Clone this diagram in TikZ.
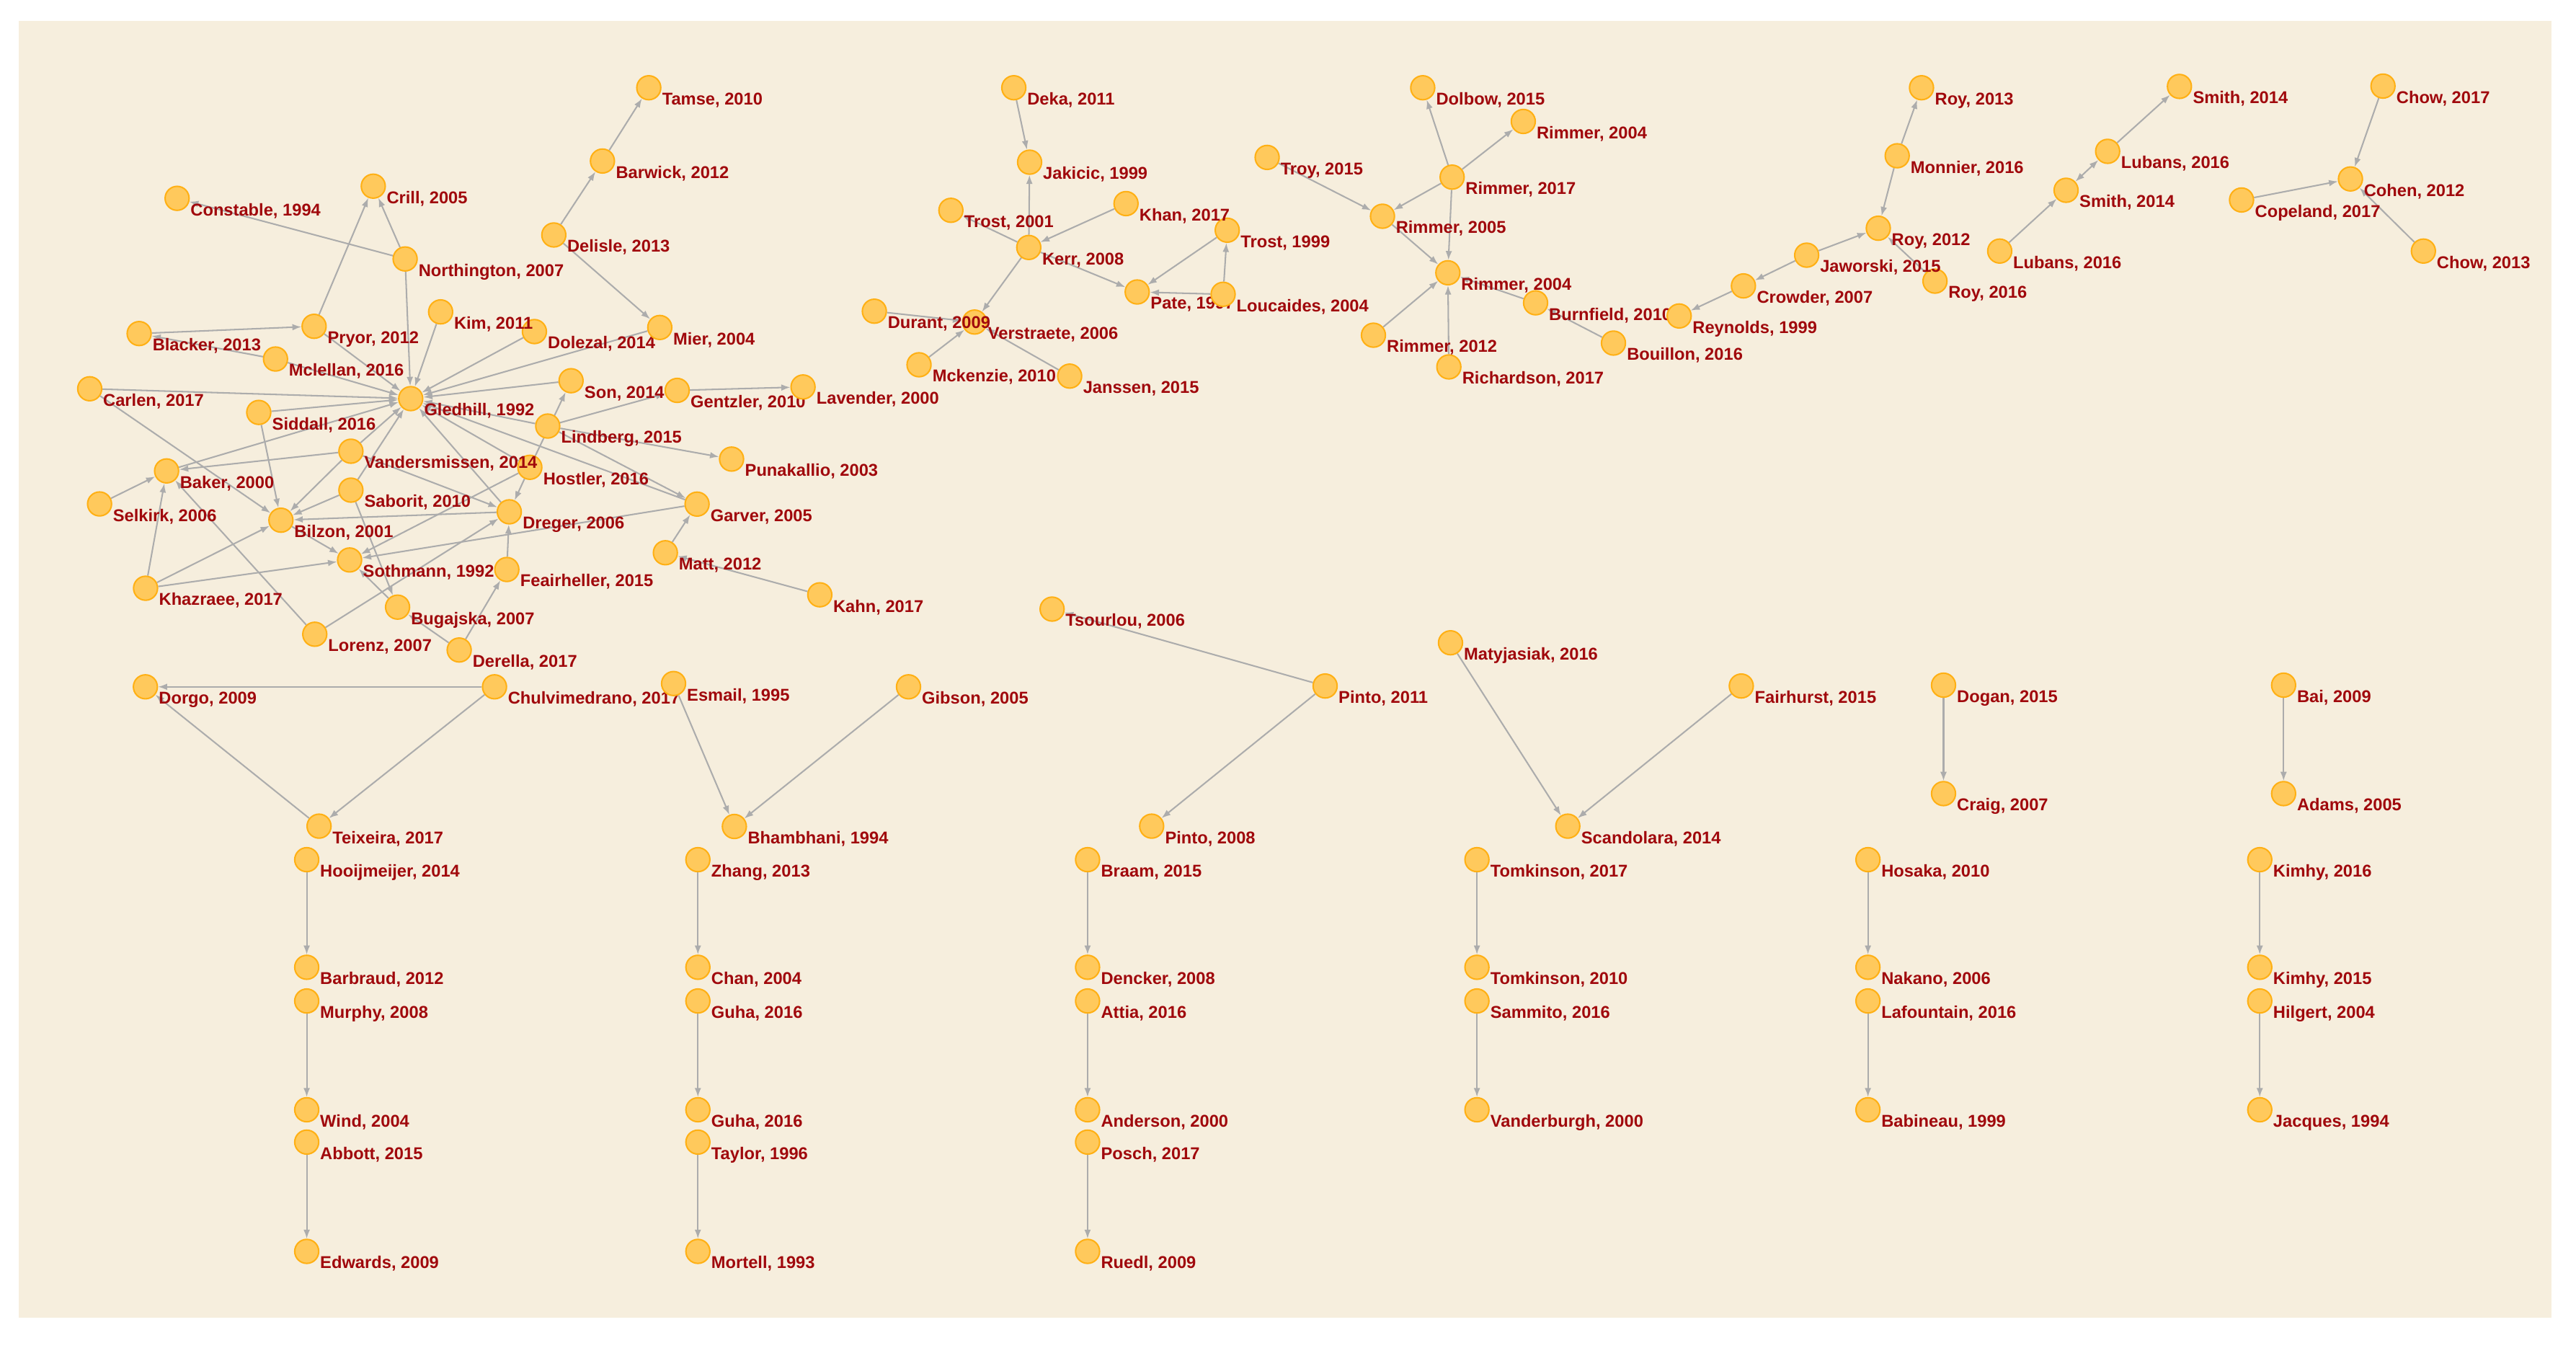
\documentclass[tikz,border=0pt]{standalone}
\usepackage{fontspec}
\setmainfont{Liberation Sans}
\usetikzlibrary{arrows.meta,backgrounds}
\definecolor{bgc}{RGB}{246,238,221}
\definecolor{nfill}{RGB}{255,201,92}
\definecolor{ndraw}{RGB}{255,176,20}
\definecolor{lblc}{RGB}{160,8,12}
\definecolor{edgec}{RGB}{172,172,172}
\tikzset{
  pnode/.style={circle,fill=nfill,draw=ndraw,line width=0.9pt,minimum size=14.6pt,inner sep=0pt},
  plabel/.style={anchor=base west,inner sep=0pt,text=lblc,font=\fontsize{10.4}{12}\selectfont\bfseries},
  edge/.style={draw=edgec,line width=0.9pt,-{Latex[length=5.5pt,width=4pt]}},
  edgeboth/.style={draw=edgec,line width=0.9pt,{Latex[length=5.5pt,width=4pt]}-{Latex[length=5.5pt,width=4pt]}}
}
\newcommand{\pn}[4]{\node[pnode] (#1) at (#2,-#3) {}; \node[plabel] (#1t) at ({#2+8},{-#3-10.5}) {#4};}
\begin{document}
\begin{tikzpicture}[x=1pt,y=1pt]
\useasboundingbox (0,0) rectangle (1568,-820);
% left cluster
\pn{tamse}{394.9}{53.4}{Tamse, 2010}
\pn{barwick}{366.7}{98}{Barwick, 2012}
\pn{crill}{227.2}{113.3}{Crill, 2005}
\pn{constable}{107.8}{120.7}{Constable, 1994}
\pn{delisle}{337.1}{143}{Delisle, 2013}
\pn{northington}{246.6}{157.6}{Northington, 2007}
\pn{dolezal}{325.3}{201.8}{Dolezal, 2014}
\pn{kim}{268.2}{189.8}{Kim, 2011}
\pn{blacker}{84.7}{203}{Blacker, 2013}
\pn{pryor}{191.2}{198.6}{Pryor, 2012}
\pn{mier}{401.6}{199.3}{Mier, 2004}
\pn{mclellan}{167.7}{218.5}{Mclellan, 2016}
\pn{son}{347.6}{231.7}{Son, 2014}
\pn{gentzler}{412.2}{237.6}{Gentzler, 2010}
\pn{lavender}{488.8}{235.5}{Lavender, 2000}
\pn{carlen}{54.6}{236.6}{Carlen, 2017}
\pn{gledhill}{250}{242.6}{Gledhill, 1992}
\pn{siddall}{157.5}{251}{Siddall, 2016}
\pn{lindberg}{333.4}{259.3}{Lindberg, 2015}
\pn{hostler}{322.5}{284.4}{Hostler, 2016}
\pn{vander}{213.6}{274.6}{Vandersmissen, 2014}
\pn{puna}{445.3}{279.4}{Punakallio, 2003}
\pn{baker}{101.4}{286.6}{Baker, 2000}
\pn{saborit}{213.6}{298.3}{Saborit, 2010}
\pn{selkirk}{60.6}{306.7}{Selkirk, 2006}
\pn{garver}{424.3}{306.8}{Garver, 2005}
\pn{bilzon}{171}{316.6}{Bilzon, 2001}
\pn{dreger}{310}{311.5}{Dreger, 2006}
\pn{feair}{308.5}{346.6}{Feairheller, 2015}
\pn{sothmann}{212.8}{340.8}{Sothmann, 1992}
\pn{matt}{405}{336.4}{Matt, 2012}
\pn{khazraee}{88.6}{358}{Khazraee, 2017}
\pn{kahn}{499}{362}{Kahn, 2017}
\pn{bugajska}{242}{369.5}{Bugajska, 2007}
\pn{lorenz}{191.6}{386}{Lorenz, 2007}
\pn{derella}{279.5}{395.6}{Derella, 2017}
% middle cluster
\pn{deka}{617.1}{53.4}{Deka, 2011}
\pn{jakicic}{626.7}{98.7}{Jakicic, 1999}
\pn{trostA}{578.8}{128}{Trost, 2001}
\pn{trostB}{747}{140.1}{Trost, 1999}
\pn{khan}{685.4}{123.9}{Khan, 2017}
\pn{kerr}{626.2}{150.6}{Kerr, 2008}
\pn{pate}{692.2}{177.7}{Pate, 1997}
\pn{loucaides}{744.5}{179.1}{Loucaides, 2004}
\pn{verstraete}{593.2}{196}{Verstraete, 2006}
\pn{durant}{532.2}{189.4}{Durant, 2009}
\pn{mckenzie}{559.4}{222}{Mckenzie, 2010}
\pn{janssen}{651.1}{228.9}{Janssen, 2015}
% Rimmer cluster
\pn{dolbow}{866}{53.4}{Dolbow, 2015}
\pn{rimA}{927.2}{73.9}{Rimmer, 2004}
\pn{troy}{771.3}{95.8}{Troy, 2015}
\pn{rimB}{883.9}{107.8}{Rimmer, 2017}
\pn{rimC}{841.5}{131.6}{Rimmer, 2005}
\pn{burnfield}{934.7}{184.3}{Burnfield, 2010}
\pn{rimD}{881.3}{166}{Rimmer, 2004}
\pn{richardson}{881.9}{223.3}{Richardson, 2017}
\pn{rimE}{836}{204}{Rimmer, 2012}
\pn{bouillon}{982.1}{208.8}{Bouillon, 2016}
\pn{reynolds}{1022.1}{192.3}{Reynolds, 1999}
\pn{crowder}{1061.2}{174}{Crowder, 2007}
\pn{royC}{1177.8}{171.1}{Roy, 2016}
\pn{jaworski}{1099.7}{155.3}{Jaworski, 2015}
\pn{royA}{1143.3}{138.9}{Roy, 2012}
\pn{monnier}{1154.8}{94.8}{Monnier, 2016}
\pn{royB}{1169.6}{53.4}{Roy, 2013}
% Lubans / Cohen
\pn{smithA}{1326.6}{52.6}{Smith, 2014}
\pn{lubansA}{1282.9}{92.1}{Lubans, 2016}
\pn{smithB}{1257.6}{115.8}{Smith, 2014}
\pn{lubansB}{1217.2}{152.8}{Lubans, 2016}
\pn{chowA}{1450.5}{52.4}{Chow, 2017}
\pn{cohen}{1430.7}{108.9}{Cohen, 2012}
\pn{copeland}{1364.4}{121.7}{Copeland, 2017}
\pn{chowB}{1475.1}{152.8}{Chow, 2013}
% lower middle
\pn{tsourlou}{640.4}{370.7}{Tsourlou, 2006}
\pn{pintoA}{806.6}{417.5}{Pinto, 2011}
\pn{matyj}{882.9}{391.2}{Matyjasiak, 2016}
\pn{fairhurst}{1059.9}{417.5}{Fairhurst, 2015}
\pn{pintoB}{701}{502.8}{Pinto, 2008}
\pn{scandolara}{954.3}{502.8}{Scandolara, 2014}
\pn{dorgo}{88.5}{418}{Dorgo, 2009}
\pn{chulvi}{301}{418}{Chulvimedrano, 2017}
\pn{esmail}{410}{416}{Esmail, 1995}
\pn{gibson}{553}{418}{Gibson, 2005}
\pn{teixeira}{194.2}{502.8}{Teixeira, 2017}
\pn{bhambhani}{447}{503}{Bhambhani, 1994}
\pn{dogan}{1183}{417}{Dogan, 2015}
\pn{craig}{1183}{483}{Craig, 2007}
\pn{bai}{1390}{417}{Bai, 2009}
\pn{adams}{1390}{483}{Adams, 2005}
% pair columns
\pn{hooij}{186.7}{523.2}{Hooijmeijer, 2014}
\pn{barbraud}{186.7}{588.7}{Barbraud, 2012}
\pn{murphy}{186.7}{609.2}{Murphy, 2008}
\pn{wind}{186.7}{675.4}{Wind, 2004}
\pn{abbott}{186.7}{695.1}{Abbott, 2015}
\pn{edwards}{186.7}{761.6}{Edwards, 2009}
\pn{zhang}{424.8}{523.2}{Zhang, 2013}
\pn{chan}{424.8}{588.7}{Chan, 2004}
\pn{guhaA}{424.8}{609.2}{Guha, 2016}
\pn{guhaB}{424.8}{675.4}{Guha, 2016}
\pn{taylor}{424.8}{695.1}{Taylor, 1996}
\pn{mortell}{424.8}{761.6}{Mortell, 1993}
\pn{braam}{662}{523.2}{Braam, 2015}
\pn{dencker}{662}{588.7}{Dencker, 2008}
\pn{attia}{662}{609.2}{Attia, 2016}
\pn{anderson}{662}{675.4}{Anderson, 2000}
\pn{posch}{662}{695.1}{Posch, 2017}
\pn{ruedl}{662}{761.6}{Ruedl, 2009}
\pn{tomkA}{899}{523.2}{Tomkinson, 2017}
\pn{tomkB}{899}{588.7}{Tomkinson, 2010}
\pn{sammito}{899}{609.2}{Sammito, 2016}
\pn{vanderburgh}{899}{675.4}{Vanderburgh, 2000}
\pn{hosaka}{1137}{523.2}{Hosaka, 2010}
\pn{nakano}{1137}{588.7}{Nakano, 2006}
\pn{lafountain}{1137}{609.2}{Lafountain, 2016}
\pn{babineau}{1137}{675.4}{Babineau, 1999}
\pn{kimhyA}{1375.5}{523.2}{Kimhy, 2016}
\pn{kimhyB}{1375.5}{588.7}{Kimhy, 2015}
\pn{hilgert}{1375.5}{609.2}{Hilgert, 2004}
\pn{jacques}{1375.5}{675.4}{Jacques, 1994}
\begin{pgfonlayer}{background}
\fill[bgc] (11.5,-12.5) rectangle (1553,-802);
\foreach \a/\b in {barwick/tamse, delisle/barwick, delisle/mier, northington/constable,
  northington/crill, pryor/crill, blacker/pryor, mclellan/blacker, northington/gledhill,
  kim/gledhill, pryor/gledhill, dolezal/gledhill, mier/gledhill, mclellan/gledhill,
  carlen/gledhill, siddall/gledhill, son/gledhill, lindberg/gledhill, vander/gledhill,
  saborit/gledhill, baker/gledhill, dreger/gledhill, hostler/gledhill, garver/gledhill,
  carlen/bilzon, siddall/bilzon, vander/bilzon, vander/baker, vander/dreger,
  saborit/bilzon, saborit/bugajska, dreger/bilzon, bilzon/sothmann, khazraee/baker,
  khazraee/bilzon, khazraee/sothmann, selkirk/baker, lorenz/baker, lorenz/dreger,
  hostler/son, hostler/dreger, hostler/sothmann, lindberg/gentzler, gentzler/lavender,
  lindberg/puna, lindberg/garver, garver/sothmann, matt/garver, kahn/matt, feair/dreger,
  derella/feair, derella/bugajska, bugajska/sothmann,
  deka/jakicic, kerr/jakicic, kerr/trostA, khan/kerr, kerr/pate, kerr/verstraete,
  trostB/pate, loucaides/trostB, loucaides/pate, durant/verstraete, mckenzie/verstraete,
  janssen/verstraete,
  rimB/dolbow, rimB/rimA, rimB/rimC, rimB/rimD, troy/rimC, rimC/rimD, rimE/rimD,
  richardson/rimD, burnfield/rimD, bouillon/burnfield, jaworski/crowder, crowder/reynolds,
  jaworski/royA, monnier/royB, monnier/royA, royC/royA,
  lubansA/smithA, lubansB/smithB, chowA/cohen, copeland/cohen, chowB/cohen,
  pintoA/tsourlou, pintoA/pintoB, matyj/scandolara, fairhurst/scandolara,
  chulvi/dorgo, chulvi/teixeira, teixeira/dorgo, esmail/bhambhani, gibson/bhambhani,
  dogan/craig, bai/adams,
  hooij/barbraud, murphy/wind, abbott/edwards, zhang/chan, guhaA/guhaB, taylor/mortell,
  braam/dencker, attia/anderson, posch/ruedl, tomkA/tomkB, sammito/vanderburgh,
  hosaka/nakano, lafountain/babineau, kimhyA/kimhyB, hilgert/jacques}
  \draw[edge] (\a) -- (\b);
\draw[edgeboth] (lubansA) -- (smithB);
\end{pgfonlayer}
\end{tikzpicture}
\end{document}
